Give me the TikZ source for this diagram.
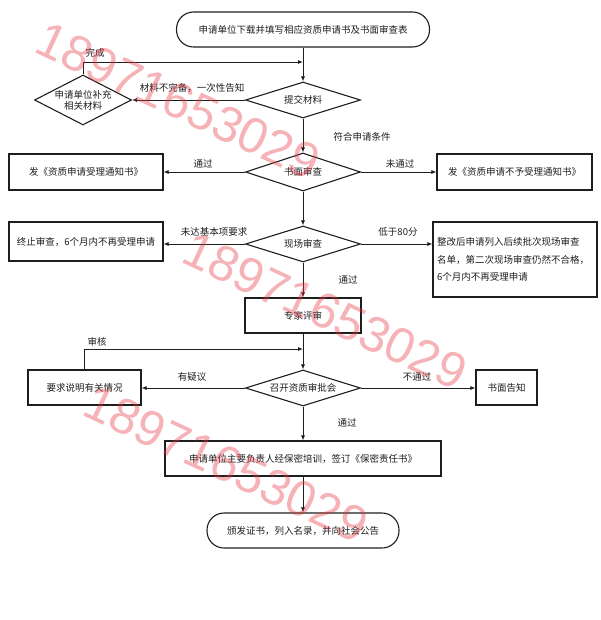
\documentclass[tikz,border=0pt]{standalone}
\usepackage{fontspec}
\setmainfont{Liberation Serif}
\newfontfamily\cjk{Noto Sans CJK SC}
\newfontfamily\wmfont{Liberation Sans}
\usetikzlibrary{shapes.geometric,arrows.meta}
\definecolor{wmred}{RGB}{232,55,65}
\definecolor{inkc}{RGB}{30,30,30}
\begin{document}
\begin{tikzpicture}[x=1pt,y=-1pt,
  every node/.style={font=\cjk\fontsize{9.5}{11}\selectfont, text=inkc},
  box/.style={draw=inkc, line width=1.1pt, rectangle, inner sep=0pt, minimum height=35},
  term/.style={box, rounded corners=17pt},
  dia/.style={draw=inkc, line width=1.1pt, diamond, aspect=3, inner sep=0pt, minimum width=115, minimum height=36},
  conn/.style={draw=inkc, line width=0.8pt, -{Latex[length=5pt,width=4pt]}},
  lab/.style={inner sep=1pt},
  wm/.style={font=\wmfont\fontsize{50}{50}\selectfont, text=wmred, text opacity=0.38, inner sep=0pt, rotate=-25}
]
\useasboundingbox (0,0) rectangle (600,620);

% nodes
\node[term, minimum width=253] (T1) at (303,29.5) {申请单位下载并填写相应资质申请书及书面审查表};
\node[dia] (submit) at (303,100) {提交材料};
\node[dia, aspect=2, minimum width=97, minimum height=50, align=center, inner sep=-5pt] (supp) at (83,100) {申请单位补充\\相关材料};
\node[dia, minimum height=38] (review) at (303,172) {书面审查};
\node[box, minimum width=154, minimum height=36] (acc) at (86,172) {发《资质申请受理通知书》};
\node[box, minimum width=155, minimum height=36] (rej) at (514.5,172) {发《资质申请不予受理通知书》};
\node[dia] (site) at (303,244) {现场审查};
\node[box, minimum width=154, minimum height=39] (stop) at (86,241.5) {终止审查，6个月内不再受理申请};
\node[box, minimum width=164, minimum height=75, text width=156, align=left,
      font=\cjk\fontsize{9.5}{17.5}\selectfont] (rect) at (515,259.5)
      {整改后申请列入后续批次现场审查\\名单，第二次现场审查仍然不合格，\\6个月内不再受理申请};
\node[box, minimum width=116] (expert) at (303,315.5) {专家评审};
\node[dia] (meeting) at (303,388) {召开资质审批会};
\node[box, minimum width=113] (explain) at (84.5,387.5) {要求说明有关情况};
\node[box, minimum width=61] (notify) at (506.5,387.5) {书面告知};
\node[box, minimum width=276] (train) at (303,458.5) {申请单位主要负责人经保密培训，签订《保密责任书》};
\node[term, minimum width=192] (T2) at (303,530.5) {颁发证书，列入名录，并向社会公告};

% labels
\node[lab] (l1) at (95,53) {完成};
\node[lab] (l2) at (192,88) {材料不完备，一次性告知};
\node[lab] (l3) at (362,137) {符合申请条件};
\node[lab] (l4) at (203,164) {通过};
\node[lab] (l5) at (400,164) {未通过};
\node[lab] (l6) at (214,232) {未达基本项要求};
\node[lab] (l7) at (398,232) {低于80分};
\node[lab] (l8) at (348,280) {通过};
\node[lab] (l9) at (97,342) {审核};
\node[lab] (l10) at (192,377) {有疑议};
\node[lab] (l11) at (417,377) {不通过};
\node[lab] (l12) at (347,423) {通过};

% connectors
\coordinate (j1) at (303,62);
\coordinate (j2) at (303,349);
\draw[conn] (T1) -- (submit);
\draw[conn] (supp.north) |- (j1);
\draw[conn] (submit) -- (supp);
\draw[conn] (submit) -- (review);
\draw[conn] (review) -- (acc);
\draw[conn] (review) -- (rej);
\draw[conn] (review) -- (site);
\draw[conn] (site.west) -- (site.west -| stop.east);
\draw[conn] (site.east) -- (site.east -| rect.west);
\draw[conn] (site) -- (expert);
\draw[conn] (expert) -- (meeting);
\draw[conn] (explain.north) |- (j2);
\draw[conn] (meeting.west) -- (meeting.west -| explain.east);
\draw[conn] (meeting.east) -- (meeting.east -| notify.west);
\draw[conn] (meeting) -- (train);
\draw[conn] (train) -- (T2);

% watermark
\node[wm] (wm1) at (178,101) {18971653029};
\node[wm] (wm2) at (325,311) {18971653029};
\node[wm] (wm3) at (226,464) {18971653029};
\end{tikzpicture}
\end{document}
